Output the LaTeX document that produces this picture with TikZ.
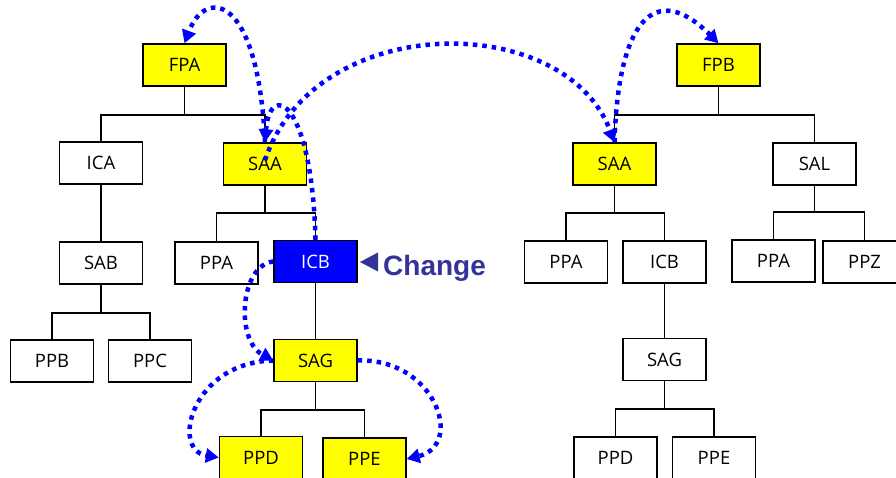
\documentclass[tikz,border=0pt]{standalone}
\usepackage{fontspec}
\setmainfont{Open Sans}
\newfontfamily\chfont{Liberation Sans}
\usetikzlibrary{arrows.meta}
\definecolor{chg}{RGB}{51,51,153}
\definecolor{ylw}{RGB}{255,255,0}
\definecolor{blu}{RGB}{0,0,255}
\tikzset{
  box/.style={draw=black, line width=1.4pt, minimum width=83pt, minimum height=42pt, inner sep=0pt, font=\fontsize{18.5}{20}\selectfont, fill=white},
  hl/.style={box, fill=ylw},
  sel/.style={box, fill=blu, text=white},
  conn/.style={draw=black, line width=1.2pt},
  prop/.style={draw=blu, line width=4.5pt, dash pattern=on 4.5pt off 5pt, -{Triangle[length=13pt,width=14pt]}},
}
\newcommand\fork[4]{%
  \draw[conn] (#2.north) -- (#2.north |- 0,#4) -- (#3.north |- 0,#4) -- (#3.north);
  \draw[conn] (#1.south) -- (#1.south |- 0,#4);}
\begin{document}
\begin{tikzpicture}[x=1pt,y=-1pt]
\useasboundingbox (0,0) rectangle (896,478);
\clip (0,0) rectangle (896,478);
% left tree
\node[hl]  (FPA)  at (184.5,65) {FPA};
\node[box] (ICA)  at (101,163) {ICA};
\node[hl]  (SAAL) at (265,164) {SAA};
\node[box] (SAB)  at (101,263) {SAB};
\node[box] (PPAL) at (216.5,263) {PPA};
\node[sel] (ICBL) at (315.5,261.5) {ICB};
\node[box] (PPB)  at (52,361) {PPB};
\node[box] (PPC)  at (150,361) {PPC};
\node[hl]  (SAGL) at (315.5,360.5) {SAG};
\node[hl]  (PPDL) at (261,457.5) {PPD};
\node[hl]  (PPEL) at (364.5,459) {PPE};
% right tree
\node[hl]  (FPB)  at (718.5,65) {FPB};
\node[hl]  (SAAR) at (614.5,164) {SAA};
\node[box] (SAL)  at (814.5,164) {SAL};
\node[box] (PPAR) at (566,262) {PPA};
\node[box] (ICBR) at (664.5,262) {ICB};
\node[box] (PPA2) at (773.5,261) {PPA};
\node[box] (PPZ)  at (864.5,262) {PPZ};
\node[box] (SAGR) at (664.5,359.5) {SAG};
\node[box] (PPDR) at (615.5,458) {PPD};
\node[box] (PPER) at (714,458) {PPE};
% tree connectors
\fork{FPA}{ICA}{SAAL}{115}
\draw[conn] (ICA.south) -- (SAB.north);
\fork{SAAL}{PPAL}{ICBL}{213}
\fork{SAB}{PPB}{PPC}{313}
\draw[conn] (ICBL.south) -- (SAGL.north);
\fork{SAGL}{PPDL}{PPEL}{410}
\fork{FPB}{SAAR}{SAL}{115}
\fork{SAAR}{PPAR}{ICBR}{213}
\fork{SAL}{PPA2}{PPZ}{212}
\draw[conn] (ICBR.south) -- (SAGR.north);
\fork{SAGR}{PPDR}{PPER}{409}
% change propagation
\draw[prop] (ICBL.north) .. controls (312,100) and (270,80) .. (SAAL.north);
\draw[prop] (SAAL.north) .. controls (258,-8) and (205,-12) .. (FPA.north);
\draw[prop] ([yshift=-18pt]SAAL.north) .. controls (315,10) and (565,10) .. (SAAR.north);
\draw[prop] (SAAR.north) .. controls (618,20) and (655,-20) .. (FPB.north);
\draw[prop] (ICBL.west) .. controls (240,265) and (235,340) .. (SAGL.west);
\draw[prop] (SAGL.west) .. controls (192,362) and (170,450) .. (PPDL.west);
\draw[prop] (SAGL.east) .. controls (435,358) and (465,445) .. (PPEL.east);
% change label
\fill[chg] (360,262) -- (378,252.5) -- (378,271.5) -- cycle;
\node[anchor=base west, inner sep=0pt, text=chg, font=\chfont\bfseries\fontsize{28}{30}\selectfont] (chglabel) at (383,275) {Change};
\end{tikzpicture}
\end{document}
